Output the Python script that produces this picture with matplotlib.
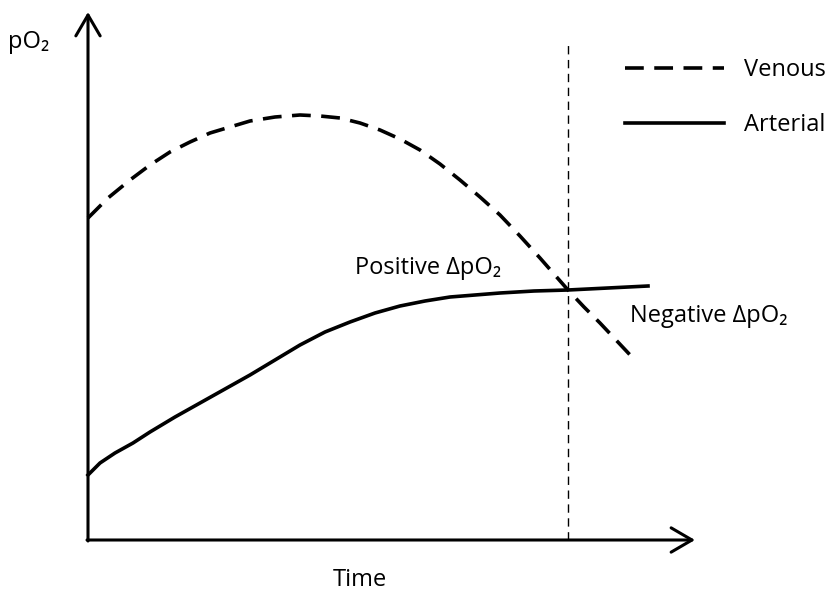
import matplotlib.pyplot as plt

plt.rcParams['font.family'] = ['Open Sans', 'DejaVu Sans']

# time values and pO2 values (arbitrary units)
t_venous = [0, 20, 42, 62, 82, 102, 122, 142, 162, 187, 212, 232, 252, 272, 292,
            312, 332, 352, 372, 392, 412, 432, 452, 466, 480, 496, 512, 528, 544]
venous = [322, 342, 360, 375, 388, 398, 407, 413, 419, 423, 425, 424, 422, 417, 410,
          401, 390, 376, 360, 343, 325, 304, 282, 266, 250, 233, 217, 200, 183]

t_arterial = [0, 12, 27, 45, 62, 87, 112, 137, 162, 187, 212, 237, 262, 287, 312,
              337, 362, 387, 412, 446, 480, 520, 560]
arterial = [65, 77, 87, 97, 108, 123, 137, 151, 165, 180, 195, 208, 218, 227, 234,
            239, 243, 245, 247, 249, 250, 252, 254]

t_cross = 480
x_end, y_end = 607, 528

fig = plt.figure(figsize=(8.33, 5.92), dpi=100)
ax = fig.add_axes([0, 0, 1, 1])
ax.set_xlim(-88, 833 - 88)
ax.set_ylim(-52, 540)
ax.axis('off')

ax.plot(t_venous, venous, color='black', lw=2.6, ls=(0, (5.2, 2.9)), label='Venous')
ax.plot(t_arterial, arterial, color='black', lw=2.6, label='Arterial')
ax.plot([t_cross, t_cross], [0, 500], color='black', lw=1.0, ls=(0, (6, 4)))

# axes with open arrow heads
arrow = dict(arrowstyle='->,head_length=0.6,head_width=0.35', lw=2.2, color='black',
             shrinkA=0, shrinkB=0, mutation_scale=25)
ax.annotate('', xy=(x_end, 0), xytext=(-1, 0), arrowprops=arrow)
ax.annotate('', xy=(0, y_end), xytext=(0, -1), arrowprops=arrow)

fs = 17
ax.text(-80, 498, 'pO₂', fontsize=fs, va='center', ha='left')
ax.text(267, 272, 'Positive ΔpO₂', fontsize=fs, va='center', ha='left')
ax.text(542, 224, 'Negative ΔpO₂', fontsize=fs, va='center', ha='left')
ax.text(272, -40, 'Time', fontsize=fs, va='center', ha='center')

ax.legend(loc='upper left', bbox_to_anchor=(625 / 833, 1 - 58 / 592),
          bbox_transform=fig.transFigure, frameon=False, fontsize=fs,
          handlelength=4.2, handletextpad=0.85, labelspacing=1.33,
          borderpad=0, borderaxespad=0)

fig.savefig('out.png', dpi=100)
